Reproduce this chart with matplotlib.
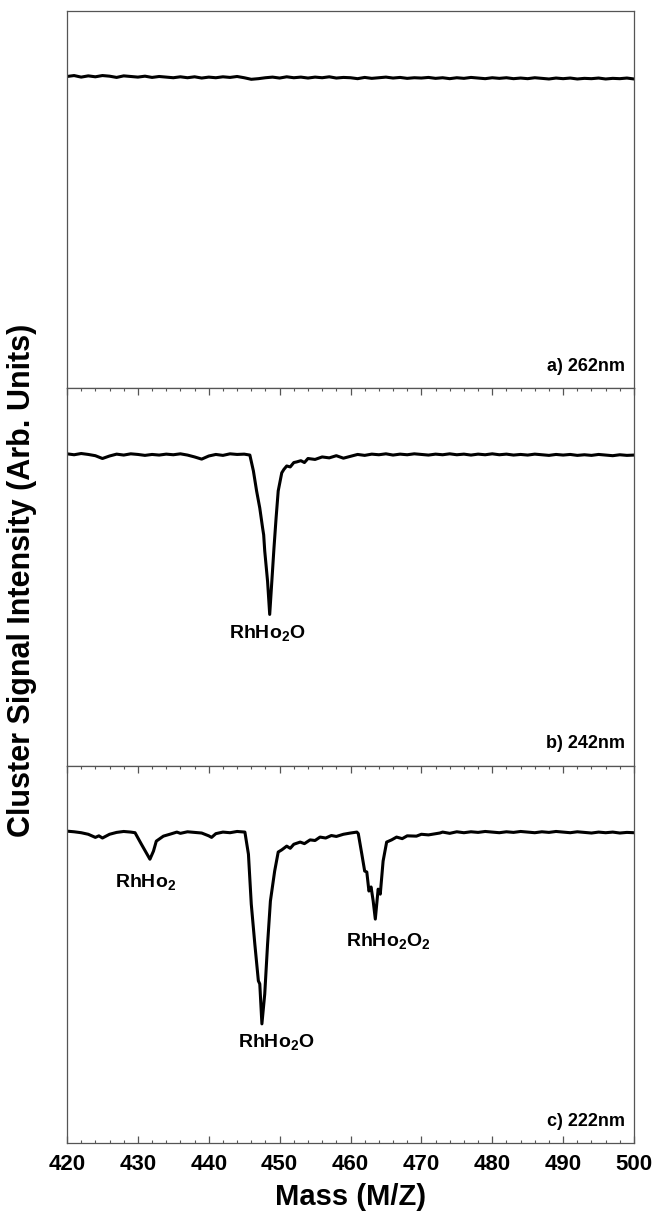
import matplotlib
matplotlib.use("Agg")
import matplotlib.pyplot as plt
from matplotlib.ticker import MultipleLocator

plt.rcParams["font.family"] = ["Liberation Sans", "DejaVu Sans"]
plt.rcParams["font.weight"] = "bold"
plt.rcParams["mathtext.fontset"] = "custom"
plt.rcParams["mathtext.rm"] = "Liberation Sans:bold"
plt.rcParams["mathtext.bf"] = "Liberation Sans:bold"
plt.rcParams["mathtext.it"] = "Liberation Sans:bold"

# panel a) 262 nm: flat signal, no depletion
mass_a = [420, 421, 422, 423, 424, 425, 426, 427, 428, 429, 430, 431, 432, 433, 434, 435,
          436, 437, 438, 439, 440, 441, 442, 443, 444, 445, 446, 447, 448, 449, 450, 451,
          452, 453, 454, 455, 456, 457, 458, 459, 460, 461, 462, 463, 464, 465, 466, 467,
          468, 469, 470, 471, 472, 473, 474, 475, 476, 477, 478, 479, 480, 481, 482, 483,
          484, 485, 486, 487, 488, 489, 490, 491, 492, 493, 494, 495, 496, 497, 498, 499, 500]
sig_a = [1.000, 1.003, 0.998, 1.002, 0.999, 1.003, 1.001, 0.997, 1.002, 1.000, 0.998, 1.001,
         0.997, 1.000, 0.998, 0.996, 0.999, 0.996, 0.999, 0.995, 0.998, 0.996, 0.999, 0.997,
         1.000, 0.996, 0.991, 0.993, 0.996, 0.998, 0.995, 0.999, 0.996, 0.998, 0.995, 0.998,
         0.996, 0.999, 0.995, 0.997, 0.996, 0.993, 0.997, 0.994, 0.996, 0.998, 0.995, 0.997,
         0.994, 0.996, 0.995, 0.997, 0.994, 0.996, 0.993, 0.996, 0.994, 0.997, 0.995, 0.993,
         0.996, 0.994, 0.996, 0.993, 0.995, 0.993, 0.996, 0.994, 0.992, 0.995, 0.993, 0.995,
         0.992, 0.994, 0.993, 0.995, 0.992, 0.994, 0.993, 0.995, 0.992]

# panel b) 242 nm: RhHo2O depletion
mass_b = [420, 421, 422, 423, 424, 425, 426, 427, 428, 429, 430, 431, 432, 433, 434, 435,
          436, 437, 438, 439, 440, 441, 442, 443, 444, 445, 445.8, 446.3, 446.75, 447.2,
          447.6, 447.75, 447.9, 448.3, 448.6, 448.9, 449.2, 449.5, 449.8, 450.3, 450.6, 451.0,
          451.5, 452.0, 452.4, 453, 453.5, 454, 455, 456, 457, 458, 459, 460, 461, 462, 463,
          464, 465, 466, 467, 468, 469, 470, 471, 472, 473, 474, 475, 476, 477, 478, 479, 480,
          481, 482, 483, 484, 485, 486, 487, 488, 489, 490, 491, 492, 493, 494, 495, 496, 497,
          498, 499, 500]
sig_b = [1.000, 0.997, 1.001, 0.998, 0.994, 0.985, 0.993, 0.999, 0.996, 1.000, 0.998, 0.995,
         0.998, 0.996, 0.999, 0.997, 1.000, 0.996, 0.990, 0.983, 0.993, 0.998, 0.995, 1.000,
         0.998, 0.999, 0.996, 0.945, 0.881, 0.826, 0.762, 0.740, 0.688, 0.591, 0.485, 0.591,
         0.697, 0.794, 0.881, 0.939, 0.950, 0.961, 0.958, 0.972, 0.974, 0.978, 0.972, 0.985,
         0.982, 0.990, 0.987, 0.994, 0.986, 0.992, 0.998, 0.995, 0.999, 0.997, 1.000, 0.996,
         0.999, 0.997, 1.000, 0.998, 0.996, 0.999, 0.997, 1.000, 0.997, 0.999, 0.996, 0.999,
         0.997, 1.000, 0.997, 0.999, 0.996, 0.998, 0.996, 0.999, 0.997, 0.995, 0.998, 0.996,
         0.998, 0.995, 0.997, 0.995, 0.998, 0.996, 0.994, 0.997, 0.995, 0.996]

# panel c) 222 nm: RhHo2, RhHo2O and RhHo2O2 depletions
mass_c = [420, 421, 422, 423, 424, 424.5, 425, 426, 427, 428, 429, 429.6, 430.5, 431.3, 431.7,
          432.2, 432.6, 433.6, 434.5, 435.5, 436, 437, 438, 439, 440, 440.4, 441, 442, 443,
          444, 445.1, 445.6, 446.0, 446.5, 447.0, 447.2, 447.5, 447.9, 448.3, 448.7, 449.3,
          449.8, 450.3, 451.0, 451.5, 452.0, 452.9, 453.5, 454.3, 455, 455.7, 456.5, 457.3,
          458, 459, 460, 460.9, 461.1, 461.6, 462.0, 462.3, 462.6, 462.9, 463.2, 463.5, 463.9,
          464.2, 464.6, 465.1, 465.8, 466.5, 467.3, 468, 469.3, 470, 471, 472.6, 473, 474, 475,
          476, 477, 478, 479, 480, 481, 482, 483, 484, 485, 486, 487, 488, 489, 490, 491, 492,
          493, 494, 495, 496, 497, 498, 499, 500]
sig_c = [1.000, 0.998, 0.995, 0.990, 0.980, 0.985, 0.978, 0.990, 0.996, 0.999, 0.997, 0.995,
         0.958, 0.926, 0.910, 0.936, 0.968, 0.984, 0.990, 0.997, 0.993, 0.998, 0.996, 0.994,
         0.985, 0.980, 0.992, 0.997, 0.995, 0.999, 0.997, 0.926, 0.766, 0.638, 0.520, 0.510,
         0.382, 0.478, 0.638, 0.776, 0.872, 0.933, 0.940, 0.952, 0.945, 0.958, 0.965, 0.960,
         0.972, 0.970, 0.981, 0.978, 0.986, 0.983, 0.990, 0.994, 0.997, 0.992, 0.926, 0.872,
         0.869, 0.808, 0.821, 0.776, 0.718, 0.814, 0.798, 0.904, 0.965, 0.972, 0.981, 0.976,
         0.985, 0.984, 0.990, 0.988, 0.994, 0.997, 0.993, 0.998, 0.995, 0.998, 0.996, 0.999,
         0.997, 0.995, 0.998, 0.996, 0.999, 0.997, 0.995, 0.998, 0.996, 0.999, 0.997, 0.995,
         0.998, 0.996, 0.994, 0.997, 0.995, 0.997, 0.994, 0.996, 0.995]

panels = [
    (mass_a, sig_a, "a) 262nm", []),
    (mass_b, sig_b, "b) 242nm", [(448.3, 0.408, r"RhHo$_2$O")]),
    (mass_c, sig_c, "c) 222nm", [(431.1, 0.821, r"RhHo$_2$"),
                                 (449.5, 0.309, r"RhHo$_2$O"),
                                 (465.4, 0.632, r"RhHo$_2$O$_2$")]),
]

fig, axes = plt.subplots(3, 1, sharex=True, figsize=(6.53, 12.16), dpi=100)
fig.subplots_adjust(left=67 / 653, right=634 / 653, top=1 - 11 / 1216,
                    bottom=1 - 1143 / 1216, hspace=0)

for i, (ax, (m, s, tag, notes)) in enumerate(zip(axes, panels)):
    ax.plot(m, s, color="black", lw=2.2, solid_joinstyle="round")
    ax.set_xlim(420, 500)
    ax.set_ylim(0, 1.21)
    ax.set_yticks([])
    for sp in ax.spines.values():
        sp.set_color("#555555")
        sp.set_linewidth(0.9)
    ax.text(0.984, 0.058, tag, transform=ax.transAxes, ha="right", va="center",
            fontsize=13, fontweight="bold")
    for x, y, t in notes:
        ax.text(x, y, t, ha="center", va="baseline", fontsize=14, fontweight="bold")
    ax.xaxis.set_major_locator(MultipleLocator(10))
    ax.xaxis.set_minor_locator(MultipleLocator(2))
    ax.tick_params(axis="x", which="major", length=5, width=0.9, color="#555555",
                   direction="in", labelsize=16, pad=8)
    ax.tick_params(axis="x", which="minor", length=2.5, width=0.8, color="#555555",
                   direction="in")
    if i == 0:
        ax.tick_params(axis="x", which="both", bottom=False, top=False)
    elif i == 1:
        ax.tick_params(axis="x", which="both", bottom=False, top=True)
    else:
        ax.tick_params(axis="x", which="both", bottom=True, top=True)

axes[-1].set_xlabel("Mass (M/Z)", fontsize=21, fontweight="bold", labelpad=6)
fig.text(22 / 653, 1 - 580 / 1216, "Cluster Signal Intensity (Arb. Units)", rotation=90,
         ha="center", va="center", fontsize=22, fontweight="bold")

fig.savefig("out.png", dpi=100)
